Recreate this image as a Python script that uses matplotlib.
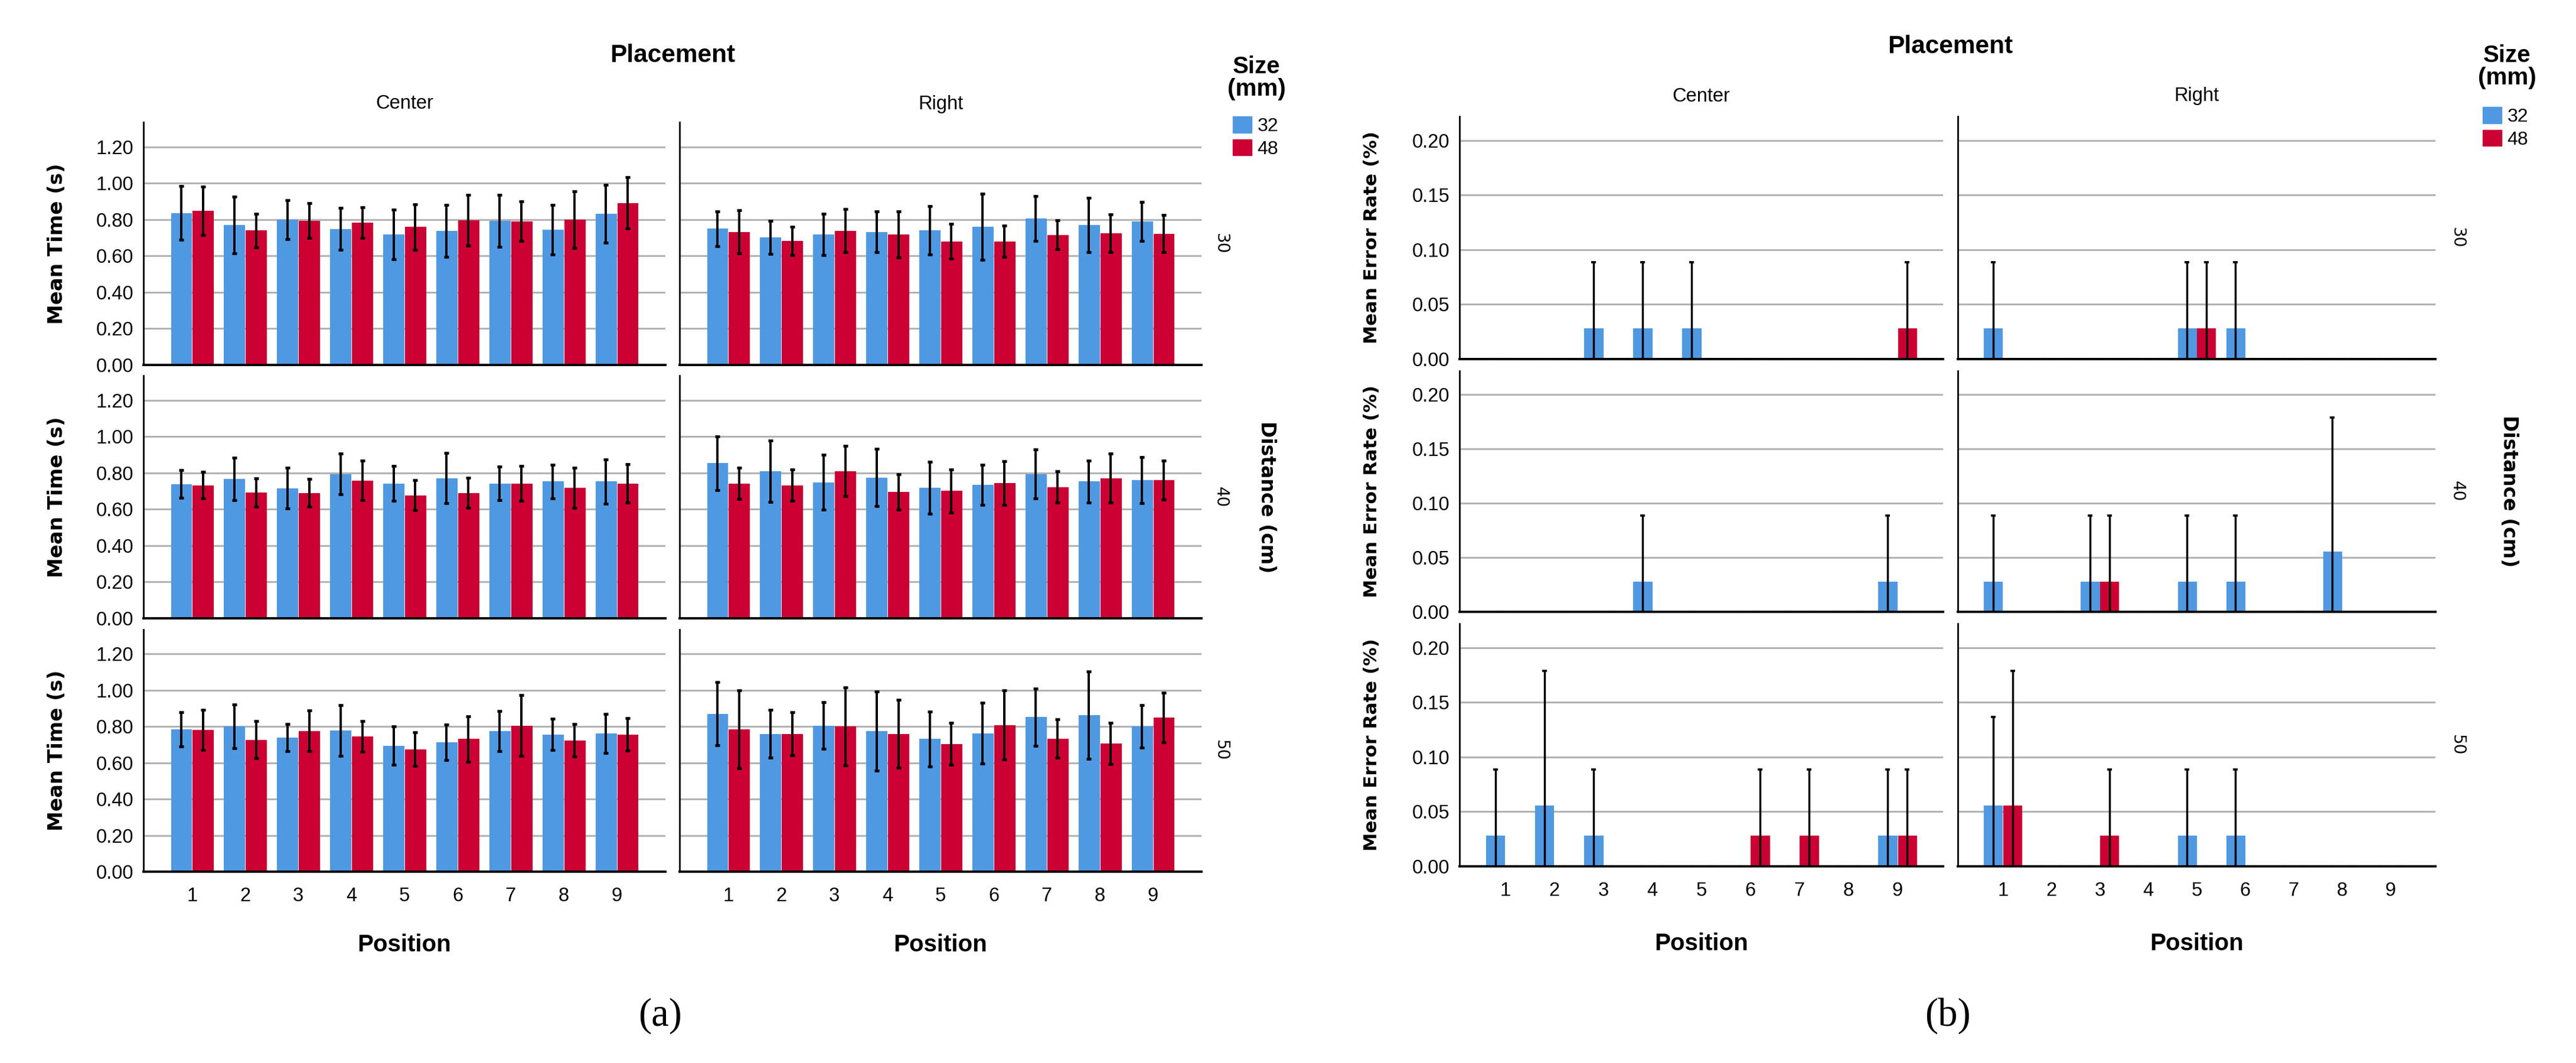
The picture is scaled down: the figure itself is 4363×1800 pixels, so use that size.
import numpy as np
import matplotlib.pyplot as plt
from matplotlib.patches import Patch

# Figure size in pixels (saved at dpi 100)
W, H = 4363, 1800
BLUE = '#4f99e3'
RED = '#cc0033'
GRID = '#b3b3b3'
SANS = 'Liberation Sans'

positions = np.arange(1, 10)
placements = ['Center', 'Right']
distances = ['30', '40', '50']
sizes = ['32', '48']

# (a) Mean time (s) per position, and half width of the 95% CI
t30_center_32 = [0.835, 0.770, 0.800, 0.748, 0.718, 0.738, 0.793, 0.744, 0.832]
t30_center_48 = [0.848, 0.740, 0.793, 0.783, 0.760, 0.796, 0.790, 0.800, 0.891]
t30_right_32 = [0.750, 0.702, 0.718, 0.732, 0.740, 0.760, 0.806, 0.770, 0.790]
t30_right_48 = [0.732, 0.682, 0.738, 0.718, 0.680, 0.680, 0.716, 0.724, 0.722]
t40_center_32 = [0.738, 0.768, 0.716, 0.793, 0.742, 0.771, 0.742, 0.752, 0.752]
t40_center_48 = [0.732, 0.692, 0.690, 0.758, 0.676, 0.690, 0.742, 0.718, 0.742]
t40_right_32 = [0.853, 0.810, 0.748, 0.774, 0.718, 0.734, 0.793, 0.752, 0.761]
t40_right_48 = [0.742, 0.732, 0.810, 0.696, 0.700, 0.744, 0.722, 0.771, 0.761]
t50_center_32 = [0.785, 0.802, 0.740, 0.779, 0.695, 0.714, 0.776, 0.757, 0.763]
t50_center_48 = [0.782, 0.727, 0.776, 0.746, 0.675, 0.731, 0.805, 0.724, 0.757]
t50_right_32 = [0.870, 0.760, 0.805, 0.776, 0.731, 0.763, 0.853, 0.863, 0.802]
t50_right_48 = [0.785, 0.760, 0.802, 0.760, 0.704, 0.808, 0.734, 0.707, 0.850]

ci30_center_32 = [0.148, 0.156, 0.107, 0.115, 0.137, 0.142, 0.143, 0.136, 0.159]
ci30_center_48 = [0.133, 0.093, 0.096, 0.085, 0.125, 0.139, 0.109, 0.156, 0.142]
ci30_right_32 = [0.096, 0.091, 0.113, 0.112, 0.133, 0.182, 0.123, 0.150, 0.108]
ci30_right_48 = [0.118, 0.078, 0.118, 0.126, 0.096, 0.087, 0.079, 0.105, 0.103]
ci40_center_32 = [0.076, 0.117, 0.112, 0.112, 0.097, 0.138, 0.092, 0.091, 0.121]
ci40_center_48 = [0.073, 0.077, 0.077, 0.108, 0.083, 0.083, 0.095, 0.109, 0.106]
ci40_right_32 = [0.147, 0.169, 0.151, 0.158, 0.143, 0.111, 0.135, 0.115, 0.127]
ci40_right_48 = [0.085, 0.087, 0.137, 0.098, 0.119, 0.121, 0.086, 0.135, 0.107]
ci50_center_32 = [0.094, 0.121, 0.075, 0.140, 0.106, 0.098, 0.111, 0.087, 0.108]
ci50_center_48 = [0.110, 0.102, 0.113, 0.084, 0.093, 0.125, 0.168, 0.089, 0.090]
ci50_right_32 = [0.174, 0.132, 0.128, 0.218, 0.150, 0.167, 0.158, 0.240, 0.117]
ci50_right_48 = [0.214, 0.119, 0.215, 0.186, 0.115, 0.190, 0.107, 0.113, 0.137]

# (b) Mean error rate per position, and upper end of the 95% CI (lower end sits at 0)
e30_center_32 = [0, 0, 0.0278, 0.0278, 0.0278, 0, 0, 0, 0]
e30_center_48 = [0, 0, 0, 0, 0, 0, 0, 0, 0.0278]
e30_right_32 = [0.0278, 0, 0, 0, 0.0278, 0.0278, 0, 0, 0]
e30_right_48 = [0, 0, 0, 0, 0.0278, 0, 0, 0, 0]
e40_center_32 = [0, 0, 0, 0.0278, 0, 0, 0, 0, 0.0278]
e40_center_48 = [0, 0, 0, 0, 0, 0, 0, 0, 0]
e40_right_32 = [0.0278, 0, 0.0278, 0, 0.0278, 0.0278, 0, 0.0556, 0]
e40_right_48 = [0, 0, 0.0278, 0, 0, 0, 0, 0, 0]
e50_center_32 = [0.0278, 0.0556, 0.0278, 0, 0, 0, 0, 0, 0.0278]
e50_center_48 = [0, 0, 0, 0, 0, 0.0278, 0.0278, 0, 0.0278]
e50_right_32 = [0.0556, 0, 0, 0, 0.0278, 0.0278, 0, 0, 0]
e50_right_48 = [0.0556, 0, 0.0278, 0, 0, 0, 0, 0, 0]

up30_center_32 = [0, 0, 0.0886, 0.0886, 0.0886, 0, 0, 0, 0]
up30_center_48 = [0, 0, 0, 0, 0, 0, 0, 0, 0.0886]
up30_right_32 = [0.0886, 0, 0, 0, 0.0886, 0.0886, 0, 0, 0]
up30_right_48 = [0, 0, 0, 0, 0.0886, 0, 0, 0, 0]
up40_center_32 = [0, 0, 0, 0.0886, 0, 0, 0, 0, 0.0886]
up40_center_48 = [0, 0, 0, 0, 0, 0, 0, 0, 0]
up40_right_32 = [0.0886, 0, 0.0886, 0, 0.0886, 0.0886, 0, 0.1786, 0]
up40_right_48 = [0, 0, 0.0886, 0, 0, 0, 0, 0, 0]
up50_center_32 = [0.0886, 0.1786, 0.0886, 0, 0, 0, 0, 0, 0.0886]
up50_center_48 = [0, 0, 0, 0, 0, 0.0886, 0.0886, 0, 0.0886]
up50_right_32 = [0.1368, 0, 0, 0, 0.0886, 0.0886, 0, 0, 0]
up50_right_48 = [0.1786, 0, 0.0886, 0, 0, 0, 0, 0, 0]

time_panels = [
    [(t30_center_32, ci30_center_32, t30_center_48, ci30_center_48),
     (t30_right_32, ci30_right_32, t30_right_48, ci30_right_48)],
    [(t40_center_32, ci40_center_32, t40_center_48, ci40_center_48),
     (t40_right_32, ci40_right_32, t40_right_48, ci40_right_48)],
    [(t50_center_32, ci50_center_32, t50_center_48, ci50_center_48),
     (t50_right_32, ci50_right_32, t50_right_48, ci50_right_48)],
]
error_panels = [
    [(e30_center_32, up30_center_32, e30_center_48, up30_center_48),
     (e30_right_32, up30_right_32, e30_right_48, up30_right_48)],
    [(e40_center_32, up40_center_32, e40_center_48, up40_center_48),
     (e40_right_32, up40_right_32, e40_right_48, up40_right_48)],
    [(e50_center_32, up50_center_32, e50_center_48, up50_center_48),
     (e50_right_32, up50_right_32, e50_right_48, up50_right_48)],
]

fig = plt.figure(figsize=(W / 100, H / 100), dpi=100)


def px_axes(x0, y0, x1, y1):
    # axes from a pixel box (top-left origin)
    return fig.add_axes([x0 / W, 1 - y1 / H, (x1 - x0) / W, (y1 - y0) / H])


def px_text(x, y, s, **kw):
    kw.setdefault('ha', 'center')
    kw.setdefault('va', 'center')
    return fig.text(x / W, 1 - y / H, s, **kw)


def style_axes(ax, ylim, yticks, ylabels, show_y, show_x, xlim):
    ax.set_xlim(*xlim)
    ax.set_ylim(*ylim)
    ax.set_yticks(yticks)
    ax.set_yticklabels(ylabels if show_y else [])
    ax.set_xticks(positions)
    ax.set_xticklabels([str(p) for p in positions] if show_x else [])
    ax.tick_params(axis='y', length=0, pad=12, labelsize=23.5)
    ax.tick_params(axis='x', length=0, pad=19, labelsize=23.5)
    for lab in ax.get_xticklabels() + ax.get_yticklabels():
        lab.set_family(SANS)
    ax.yaxis.grid(True, color=GRID, linewidth=2.2)
    ax.xaxis.grid(False)
    ax.set_axisbelow(True)
    ax.spines['top'].set_visible(False)
    ax.spines['right'].set_visible(False)
    ax.spines['left'].set_linewidth(2)
    ax.spines['bottom'].set_linewidth(2.8)


def draw_bars(ax, m32, m48, err32, err48, width, off, elw, cs, ct):
    x = positions
    ax.bar(x - off, m32, width, color=BLUE, edgecolor=BLUE, linewidth=0.8, label=sizes[0])
    ax.bar(x + off, m48, width, color=RED, edgecolor=RED, linewidth=0.8, label=sizes[1])
    ax.errorbar(x - off, m32, yerr=err32, fmt='none', ecolor='black',
                elinewidth=elw, capsize=cs, capthick=ct, zorder=5)
    ax.errorbar(x + off, m48, yerr=err48, fmt='none', ecolor='black',
                elinewidth=elw, capsize=cs, capthick=ct, zorder=5)


# ---- panel (a): mean time ----
a_cols = [(243, 1127), (1151, 2035)]
a_rows = [(207, 618), (636, 1047), (1066, 1476)]
a_ticks = [0, 0.2, 0.4, 0.6, 0.8, 1.0, 1.2]
a_labels = ['%.2f' % t for t in a_ticks]

for r, (y0, y1) in enumerate(a_rows):
    for c, (x0, x1) in enumerate(a_cols):
        ax = px_axes(x0, y0, x1, y1)
        m32, ci32, m48, ci48 = time_panels[r][c]
        draw_bars(ax, np.array(m32), np.array(m48), ci32, ci48,
                  0.385, 0.205, 2.8, 3.0, 3.4)
        style_axes(ax, (0, 1.335), a_ticks, a_labels, c == 0, r == 2, (0.085, 9.915))
    px_text(96, (y0 + y1) / 2, 'Mean Time (s)', rotation=90,
            family='DejaVu Sans', weight='bold', fontsize=24.5)
    px_text(2068, (y0 + y1) / 2, distances[r], rotation=270,
            family='DejaVu Sans', fontsize=20)

# ---- panel (b): mean error rate ----
b_cols = [(2472, 3291), (3316, 4125)]
b_rows = [(197, 607.6), (627.5, 1036), (1056, 1466.6)]
b_ticks = [0, 0.05, 0.10, 0.15, 0.20]
b_labels = ['%.2f' % t for t in b_ticks]

for r, (y0, y1) in enumerate(b_rows):
    for c, (x0, x1) in enumerate(b_cols):
        ax = px_axes(x0, y0, x1, y1)
        m32, up32, m48, up48 = error_panels[r][c]
        m32, up32, m48, up48 = map(np.array, (m32, up32, m48, up48))
        err32 = [m32, np.clip(up32 - m32, 0, None)]
        err48 = [m48, np.clip(up48 - m48, 0, None)]
        draw_bars(ax, m32, m48, err32, err48, 0.38, 0.2, 2.5, 2.6, 2.7)
        style_axes(ax, (0, 0.222), b_ticks, b_labels, c == 0, r == 2, (0.07, 9.93))
    px_text(2324, (y0 + y1) / 2, 'Mean Error Rate (%)', rotation=90,
            family='DejaVu Sans', weight='bold', fontsize=22.6)
    px_text(4162, (y0 + y1) / 2, distances[r], rotation=270,
            family='DejaVu Sans', fontsize=20)

# ---- headers, labels and legends ----
for (cols, rows, py, ty, dx, ly, cap, title_xy, leg_xy) in [
        (a_cols, a_rows, 94, 176, 2145, 1600, (1118, '(a)'), (2128, 132), (2088, 197)),
        (b_cols, b_rows, 79, 163, 4250, 1598, (3299, '(b)'), (4246, 113), (4205, 181))]:
    px_text((cols[0][1] + cols[1][0]) / 2, py, 'Placement',
            family=SANS, weight='bold', fontsize=30.5)
    for (x0, x1), name in zip(cols, placements):
        px_text((x0 + x1) / 2, ty, name, family=SANS, fontsize=23.5)
        px_text((x0 + x1) / 2, ly, 'Position', family=SANS, weight='bold', fontsize=29)
    px_text(dx, (rows[1][0] + rows[1][1]) / 2, 'Distance (cm)', rotation=270,
            family='DejaVu Sans', weight='bold', fontsize=23.8)
    px_text(cap[0], 1720, cap[1], family='Liberation Serif', fontsize=48)
    px_text(title_xy[0], title_xy[1], 'Size\n(mm)', family=SANS, weight='bold',
            fontsize=29, linespacing=1.0)
    handles = [Patch(color=BLUE, label=sizes[0]), Patch(color=RED, label=sizes[1])]
    fig.legend(handles=handles, loc='upper left',
               bbox_to_anchor=(leg_xy[0] / W, 1 - leg_xy[1] / H),
               frameon=False, prop={'family': SANS, 'size': 23},
               handlelength=1.0, handleheight=0.95, handletextpad=0.3,
               labelspacing=0.22, borderpad=0, borderaxespad=0)

fig.savefig('out.png', dpi=100)
